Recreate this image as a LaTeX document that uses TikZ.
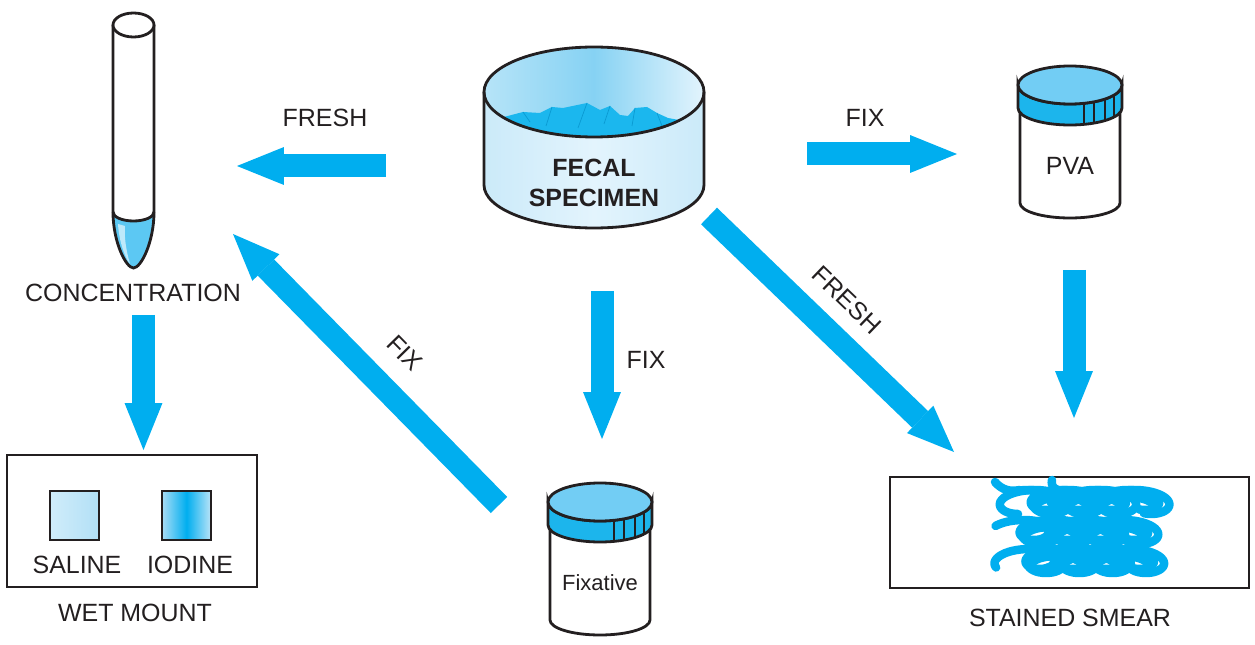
\documentclass[tikz,border=0pt]{standalone}
\usepackage{fontspec}
\setmainfont{Liberation Sans}
\usetikzlibrary{arrows.meta}

\definecolor{ink}{HTML}{231F20}
\definecolor{flowcyan}{HTML}{00AEEF}
\definecolor{lidtop}{HTML}{72CDF4}
\definecolor{lidband}{HTML}{1CB5EC}
\definecolor{dishwall}{HTML}{CBEAF9}
\definecolor{dishlight}{HTML}{E3F4FD}
\definecolor{dishtop}{HTML}{86D2F3}
\definecolor{stool}{HTML}{1BB7EE}
\definecolor{facet}{HTML}{0A9AD2}
\definecolor{tubefluid}{HTML}{5CC8F3}
\definecolor{salineA}{HTML}{D0ECFA}
\definecolor{salineB}{HTML}{B2E0F6}
\definecolor{iodineA}{HTML}{A9DDF6}
\definecolor{iodineB}{HTML}{00AEEF}

\begin{document}
\begin{tikzpicture}[x=0.02cm,y=-0.02cm,
  outline/.style={draw=ink,line width=1.6pt},
  flow/.style={draw=flowcyan,line width=0.46cm,-{Triangle[length=9.4mm,width=7.6mm,line width=0pt]}},
  lab/.style={text=ink,font=\fontsize{14.2}{17}\selectfont},
  labb/.style={text=ink,font=\fontsize{14.2}{17}\selectfont\bfseries},
  smear/.style={draw=flowcyan,line width=0.17cm,line cap=round,line join=round}]
  \useasboundingbox (0,0) rectangle (1255,645);

  % centrifuge tube
  \fill[tubefluid] (113,212) .. controls (113,242) and (126,268) .. (133.5,268)
    .. controls (141,268) and (154,242) .. (154,212)
    arc[start angle=0,end angle=180,x radius=20.5,y radius=9] -- cycle;
  \fill[tubefluid!40] (118,224) .. controls (119,240) and (124,256) .. (130,264)
    .. controls (126,250) and (124,236) .. (125,226) -- cycle;
  \draw[outline] (113,25) -- (113,212) .. controls (113,242) and (126,268) .. (133.5,268)
    .. controls (141,268) and (154,242) .. (154,212) -- (154,25);
  \draw[outline] (154,212) arc[start angle=0,end angle=180,x radius=20.5,y radius=9];
  \draw[outline,fill=white] (133.5,25) ellipse[x radius=20.5,y radius=12];
  \node[lab] (conc) at (133,293) {CONCENTRATION};

  % wet mount slide
  \draw[outline] (7,455) rectangle (257,587);
  \shade[left color=salineA,right color=salineB] (50,491) rectangle (99,540);
  \shade[left color=iodineA,right color=iodineA!80,middle color=iodineB] (162,491) rectangle (211,540);
  \draw[outline] (50,491) rectangle (99,540);
  \draw[outline] (162,491) rectangle (211,540);
  \node[lab] (saline) at (77,565) {SALINE};
  \node[lab] (iodine) at (190,565) {IODINE};
  \node[lab] (wetmount) at (135,613) {WET MOUNT};

  % specimen dish
  \shade[left color=dishwall,right color=dishwall,middle color=dishlight]
    (484,92) -- (484,185) arc[start angle=180,end angle=0,x radius=110,y radius=43]
    -- (704,92) arc[start angle=0,end angle=180,x radius=110,y radius=45] -- cycle;
  \shade[left color=dishtop!60,right color=dishlight,middle color=dishtop]
    (594,92) ellipse[x radius=110,y radius=45];
  \begin{scope}
    \clip (594,92) ellipse[x radius=109,y radius=44];
    \fill[stool] (500,118) -- (523,112) -- (540,113) -- (552,107) -- (563,108) -- (587,103)
      -- (600,110) -- (610,106) -- (620,115) -- (628,116) -- (635,108) -- (647,107)
      -- (657,113) -- (668,118) -- (690,122) -- (690,150) -- (500,150) -- cycle;
    \draw[facet,thin] (552,107) -- (546,126) (587,103) -- (578,128) (610,106) -- (604,124)
      (635,108) -- (632,126) (523,112) -- (530,122) (657,113) -- (662,126);
  \end{scope}
  \draw[outline] (484,92) -- (484,185) arc[start angle=180,end angle=0,x radius=110,y radius=43] -- (704,92);
  \draw[outline] (594,92) ellipse[x radius=110,y radius=45];
  \node[labb,align=center] (dish) at (594,183) {FECAL\\SPECIMEN};

  % specimen jars
  \foreach \cx/\ty/\txt/\fs/\nm in {1070/66/PVA/14.2/pva,600/483/Fixative/12.5/fixjar}{
    \begin{scope}[shift={(\cx,\ty)}]
      \draw[outline,fill=white] (-50,42) -- (-50,137)
        arc[start angle=180,end angle=0,x radius=50,y radius=15] -- (50,42);
      \draw[outline,fill=lidband] (-52,19) -- (-52,42)
        arc[start angle=180,end angle=0,x radius=52,y radius=17] -- (52,19)
        arc[start angle=0,end angle=180,x radius=52,y radius=19] -- cycle;
      \foreach \rx in {14,24,35,44}
        \draw[outline] ({\rx},{19+19*sqrt(1-(\rx/52)^2)}) -- ({\rx},{42+17*sqrt(1-(\rx/52)^2)});
      \draw[outline,fill=lidtop] (0,19) ellipse[x radius=52,y radius=19];
      \node[text=ink,font=\fontsize{\fs}{15}\selectfont] (\nm) at (0,100) {\txt};
    \end{scope}
  }

  % stained smear slide
  \draw[outline] (890,477) rectangle (1249,588);
  \foreach \ry/\ph in {502/0,532/2.1,561/1.0}{
    \draw[smear] plot[variable=\t,domain=0:25.5,samples=160,smooth]
      ({1018+5.3*\t-26*sin((\t+\ph) r)},{\ry+12*cos((\t+\ph) r)});
    \draw[smear] plot[variable=\t,domain=0:23,samples=150,smooth]
      ({1025+5.3*\t-22*sin((\t+\ph+2.5) r)},{\ry-2+10*cos((\t+\ph+2.5) r)});
    \draw[smear] plot[variable=\t,domain=0:20,samples=130,smooth]
      ({1035+5.3*\t-16*sin((\t+\ph+4.4) r)},{\ry+2+7*cos((\t+\ph+4.4) r)});
  }
  \draw[smear] (995,482) .. controls (1002,490) and (1010,492) .. (1020,490);
  \draw[smear] (1052,480) .. controls (1050,488) and (1058,492) .. (1068,491);
  \node[lab] (smearlab) at (1070,618) {STAINED SMEAR};

  % flow arrows
  \coordinate (dishW) at (386,166);
  \coordinate (concE) at (237,166);
  \coordinate (dishE) at (807,154);
  \coordinate (pvaW) at (957,154);
  \coordinate (concS) at (143.5,315);
  \coordinate (wetN) at (143.5,450);
  \coordinate (dishS) at (602,291);
  \coordinate (fixN) at (602,439);
  \coordinate (pvaS) at (1074,270);
  \coordinate (smearN) at (1074,418);
  \coordinate (fixW) at (499,505);
  \coordinate (concSE) at (233,234);
  \coordinate (dishSE) at (709,216);
  \coordinate (smearNW) at (954,452);
  \draw[flow] (dishW) -- (concE);
  \draw[flow] (dishE) -- (pvaW);
  \draw[flow] (concS) -- (wetN);
  \draw[flow] (dishS) -- (fixN);
  \draw[flow] (pvaS) -- (smearN);
  \draw[flow] (fixW) -- (concSE);
  \draw[flow] (dishSE) -- (smearNW);
  \node[lab] (freshA) at (325,118) {FRESH};
  \node[lab] (fixA) at (865,118) {FIX};
  \node[lab] (fixB) at (646,360) {FIX};
  \node[lab,rotate=-45.6] (fixC) at (405,353) {FIX};
  \node[lab,rotate=-43.9] (freshB) at (847,300) {FRESH};
\end{tikzpicture}
\end{document}
